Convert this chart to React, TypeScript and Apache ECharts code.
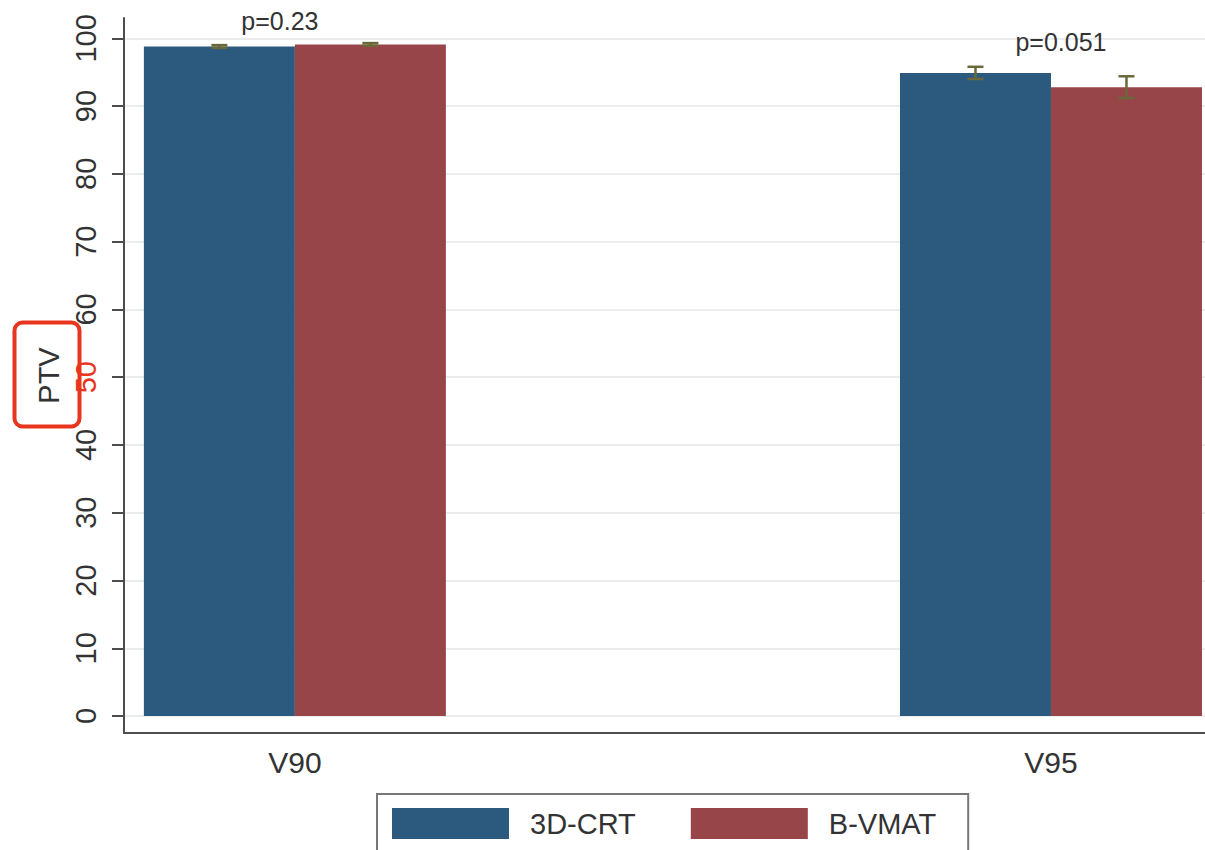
import React, { useEffect, useRef } from 'react';
import * as echarts from 'echarts';

// Dose–volume comparison (PTV) between 3D-CRT and B-VMAT plans
const categories = ['V90', 'V95'];
const seriesNames = ['3D-CRT', 'B-VMAT'];
const means3DCRT = [98.8, 94.9];
const meansBVMAT = [99.1, 92.8];
const sd3DCRT = [0.2, 0.9];
const sdBVMAT = [0.2, 1.6];
const pTexts = ['p=0.23', 'p=0.051'];
const pTextY = [102.6, 99.4];
const yTickValues = [0, 10, 20, 30, 40, 50, 60, 70, 80, 90, 100];
const highlightedTick = 50;

// styling
const BLUE = '#2c5a7f';
const RED = '#984549';
const ERR = '#6a6838';
const ANNOT = '#e8351f';
const AXIS = '#4d4d4d';
const TEXT = '#333333';
const FONT = '"Liberation Sans", Arial, sans-serif';
const BAR_W = 151;
const P_DX = [-15, 10];

export default function App() {
  const ref = useRef<HTMLDivElement>(null);

  useEffect(() => {
    if (!ref.current) return;
    const chart = echarts.init(ref.current, undefined, { renderer: 'svg' });

    const barData = (vals: number[]) => vals.map((v, i) => [i, v]);
    const errData = (vals: number[], sds: number[], k: number) =>
      vals.map((v, i) => [i, v - sds[i], v + sds[i], k]);

    const errorRender = (params: any, api: any) => {
      const x = api.value(0);
      const lo = api.coord([x, api.value(1)]);
      const hi = api.coord([x, api.value(2)]);
      const k = api.value(3);
      const dx = k === 0 ? -BAR_W / 2 : BAR_W / 2;
      const cx = lo[0] + dx;
      const cap = 8;
      const style = { stroke: ERR, lineWidth: 2.5 };
      return {
        type: 'group',
        children: [
          { type: 'line', shape: { x1: cx, y1: lo[1], x2: cx, y2: hi[1] }, style },
          { type: 'line', shape: { x1: cx - cap, y1: hi[1], x2: cx + cap, y2: hi[1] }, style },
          { type: 'line', shape: { x1: cx - cap, y1: lo[1], x2: cx + cap, y2: lo[1] }, style },
        ],
      };
    };

    chart.setOption({
      animation: false,
      backgroundColor: '#ffffff',
      textStyle: { fontFamily: FONT },
      grid: { left: 124, right: 0, top: 18, bottom: 117, containLabel: false },
      legend: {
        data: seriesNames,
        left: 377,
        top: 794,
        orient: 'horizontal',
        padding: [14, 32, 14, 15],
        itemGap: 55,
        itemWidth: 117,
        itemHeight: 31,
        icon: 'rect',
        borderColor: '#777777',
        borderWidth: 2,
        backgroundColor: '#ffffff',
        textStyle: { fontSize: 29, color: TEXT, fontFamily: FONT, padding: [0, 0, 0, 16] },
      },
      xAxis: {
        type: 'value',
        min: -0.226,
        max: 1.2037,
        splitLine: { show: false },
        axisTick: { show: false },
        axisLine: { show: true, onZero: false, lineStyle: { color: AXIS, width: 2 } },
        axisLabel: {
          customValues: categories.map((_, i) => i),
          formatter: (v: number) => categories[Math.round(v)] ?? '',
          fontSize: 30,
          color: TEXT,
          margin: 14,
        },
      },
      yAxis: {
        type: 'value',
        min: -2.5,
        max: 103,
        name: 'PTV',
        nameLocation: 'middle',
        nameGap: 50,
        nameRotate: 90,
        nameTextStyle: { fontSize: 29, color: TEXT, fontFamily: FONT },
        axisLine: { show: true, onZero: false, lineStyle: { color: AXIS, width: 2 } },
        axisTick: {
          show: true,
          length: 12,
          customValues: yTickValues,
          lineStyle: { color: AXIS, width: 2 },
        },
        axisLabel: {
          customValues: yTickValues,
          rotate: 90,
          margin: 24,
          fontSize: 29,
          color: TEXT,
          formatter: (v: number) => (v === highlightedTick ? `{hl|${v}}` : `${v}`),
          rich: { hl: { color: ANNOT, fontSize: 29, fontFamily: FONT } },
        },
        splitLine: { show: true, lineStyle: { color: '#e4e6e8', width: 1.5 } },
      },
      series: [
        {
          name: seriesNames[0],
          type: 'bar',
          data: barData(means3DCRT),
          barWidth: BAR_W,
          barGap: '0%',
          itemStyle: { color: BLUE },
        },
        {
          name: seriesNames[1],
          type: 'bar',
          data: barData(meansBVMAT),
          barWidth: BAR_W,
          barGap: '0%',
          itemStyle: { color: RED },
        },
        {
          type: 'custom',
          name: 'sd-3D-CRT',
          renderItem: errorRender,
          data: errData(means3DCRT, sd3DCRT, 0),
          z: 10,
          clip: false,
        },
        {
          type: 'custom',
          name: 'sd-B-VMAT',
          renderItem: errorRender,
          data: errData(meansBVMAT, sdBVMAT, 1),
          z: 10,
          clip: false,
        },
        {
          type: 'custom',
          name: 'p-values',
          clip: false,
          z: 11,
          data: categories.map((_, i) => [i, pTextY[i]]),
          renderItem: (params: any, api: any) => {
            const i = params.dataIndex;
            const p = api.coord([api.value(0), api.value(1)]);
            return {
              type: 'text',
              x: p[0] + P_DX[i],
              y: p[1],
              style: {
                text: pTexts[i],
                fontSize: 25,
                fontFamily: FONT,
                fill: TEXT,
                align: 'center',
                verticalAlign: 'middle',
              },
            };
          },
        },
      ],
      graphic: [
        {
          type: 'rect',
          left: 12,
          top: 320,
          shape: { width: 65, height: 104, r: 8 },
          style: { fill: 'none', stroke: ANNOT, lineWidth: 4 },
          z: 100,
        },
      ],
    });

    return () => chart.dispose();
  }, []);

  return (
    <div
      ref={ref}
      style={{ position: 'absolute', left: 0, top: 0, width: 1205, height: 850, background: '#fff' }}
    />
  );
}
